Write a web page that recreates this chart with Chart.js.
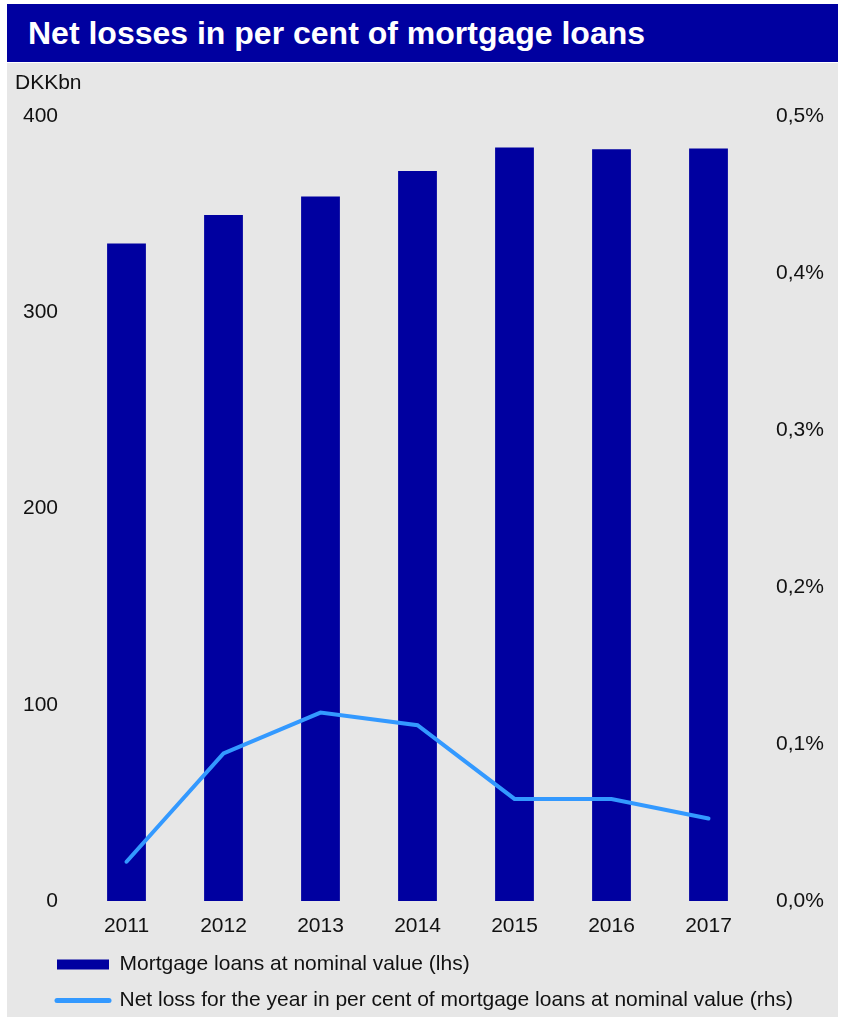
<!DOCTYPE html>
<html>
<head>
<meta charset="utf-8">
<script src="https://cdn.jsdelivr.net/npm/chart.js@4.4.0/dist/chart.umd.min.js"></script>
<style>
  html, body { margin: 0; padding: 0; background: #fff; }
  body { width: 845px; height: 1023px; position: relative; overflow: hidden; font-family: "Liberation Sans", Arial, sans-serif; }
  #panel { position: absolute; left: 7px; top: 4px; width: 831px; height: 1013px; background: #e7e7e7; }
  #title { height: 58px; line-height: 58px; background: #0000a0; color: #fff; font-weight: bold; font-size: 32px; padding-left: 21px; border-bottom: 1px solid #fff; white-space: nowrap; }
  #wrap { position: absolute; left: 7px; top: 63px; width: 831px; height: 958px; }
</style>
</head>
<body>
<div id="panel">
  <div id="title">Net losses in per cent of mortgage loans</div>
</div>
<div id="wrap"><canvas id="chart"></canvas></div>
<script>
// Mortgage loans (DKKbn, left axis) and net loss in % of loans (right axis)
const years = ["2011", "2012", "2013", "2014", "2015", "2016", "2017"];
const loans = [335, 349.5, 359, 372, 384, 383, 383.5];
const netLoss = [0.025, 0.094, 0.12, 0.112, 0.065, 0.065, 0.0525];

const loansLabel = "Mortgage loans at nominal value (lhs)";
const lossLabel = "Net loss for the year in per cent of mortgage loans at nominal value (rhs)";
const unitLabel = "DKKbn";

const NAVY = "#0000a0";
const SKY = "#3399ff";
const TEXT = "#111111";
const FONT = { family: "'Liberation Sans', Arial, sans-serif", size: 21 };

// unit label above the left axis
const unitPlugin = {
  id: "unit-label",
  afterDraw(chart) {
    const ctx = chart.ctx;
    ctx.save();
    ctx.font = "21px 'Liberation Sans', Arial, sans-serif";
    ctx.fillStyle = TEXT;
    ctx.textAlign = "left";
    ctx.textBaseline = "middle";
    ctx.fillText(unitLabel, 8, 20);
    ctx.restore();
  },
};

// indent the legend rows without moving the plot area
const legendIndent = {
  id: "legend-indent",
  afterUpdate(chart) {
    if (chart.legend) chart.legend.left = 35;
  },
};

new Chart(document.getElementById("chart"), {
  data: {
    labels: years,
    datasets: [
      {
        type: "line",
        label: lossLabel,
        data: netLoss,
        yAxisID: "y1",
        borderColor: SKY,
        borderWidth: 4,
        borderCapStyle: "round",
        pointRadius: 0,
        tension: 0,
        order: 0,
      },
      {
        type: "bar",
        label: loansLabel,
        data: loans,
        yAxisID: "y",
        backgroundColor: NAVY,
        categoryPercentage: 1,
        barPercentage: 0.4,
        order: 1,
      },
    ],
  },
  options: {
    responsive: true,
    maintainAspectRatio: false,
    animation: false,
    layout: { padding: { top: 53, left: 0, right: 0, bottom: 0 } },
    plugins: {
      tooltip: { enabled: false },
      legend: {
        position: "bottom",
        align: "start",
        labels: {
          font: FONT,
          color: TEXT,
          padding: 15,
          usePointStyle: true,
          pointStyleWidth: 52,
          boxHeight: 10,
          generateLabels: () => [
            { text: loansLabel, pointStyle: "rect", fillStyle: NAVY, strokeStyle: NAVY, lineWidth: 0, fontColor: TEXT, datasetIndex: 1 },
            { text: lossLabel, pointStyle: "line", fillStyle: SKY, strokeStyle: SKY, lineWidth: 5, lineCap: "round", fontColor: TEXT, datasetIndex: 0 },
          ],
        },
      },
    },
    scales: {
      x: {
        grid: { display: false, drawTicks: false },
        border: { display: false },
        ticks: { font: FONT, color: TEXT, padding: 13, maxRotation: 0 },
        afterFit: (s) => { s.height = 38; },
      },
      y: {
        position: "left",
        min: 0,
        max: 400,
        grid: { display: false, drawTicks: false },
        border: { display: false },
        ticks: { stepSize: 100, font: FONT, color: TEXT, padding: 20 },
        afterFit: (s) => { s.width = 71; },
      },
      y1: {
        position: "right",
        min: 0,
        max: 0.5,
        grid: { display: false, drawTicks: false },
        border: { display: false },
        ticks: {
          stepSize: 0.1,
          font: FONT,
          color: TEXT,
          padding: 19,
          callback: (v) => v.toFixed(1).replace(".", ",") + "%",
        },
        afterFit: (s) => { s.width = 81; },
      },
    },
  },
  plugins: [unitPlugin, legendIndent],
});
</script>
</body>
</html>
